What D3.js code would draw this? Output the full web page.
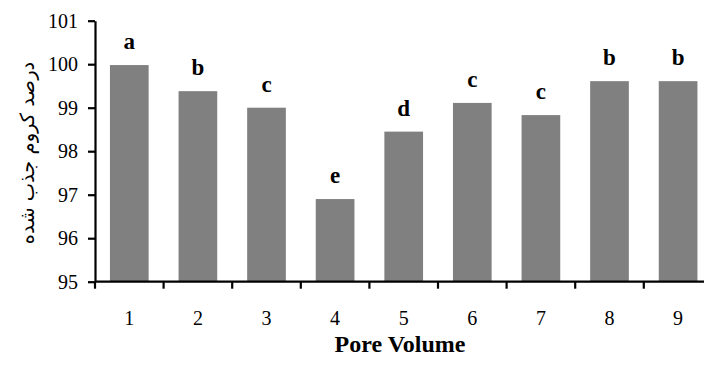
<!DOCTYPE html>
<html>
<head>
<meta charset="utf-8">
<script src="https://cdn.jsdelivr.net/npm/d3@7"></script>
<style>
body { margin: 0; background: #fff; }
svg text { font-family: "Times New Roman", "Liberation Serif", serif; }
</style>
</head>
<body>
<script>
var width = 704;
var height = 372;

// data
var poreVolumes = ["1", "2", "3", "4", "5", "6", "7", "8", "9"];
var chromiumRemoval = [99.98, 99.38, 99.0, 96.9, 98.45, 99.11, 98.83, 99.61, 99.61];
var groupLetters = ["a", "b", "c", "e", "d", "c", "c", "b", "b"];
var yTicks = [95, 96, 97, 98, 99, 100, 101];

var serif = "'Liberation Serif', 'Times New Roman', serif";

var svg = d3.select("body")
            .append("svg")
            .attr("width", width)
            .attr("height", height);

var plotLeft = 95, plotTop = 20.7, plotBottom = 281.7;
var step = 68.6;

var x = d3.scaleBand()
          .domain(poreVolumes)
          .range([plotLeft, plotLeft + step * poreVolumes.length])
          .paddingInner(0.436)
          .paddingOuter(0.218);

var y = d3.scaleLinear().domain([95, 101]).range([plotBottom, plotTop]);

var data = poreVolumes.map(function (d, i) {
    return { pv: d, value: chromiumRemoval[i], letter: groupLetters[i] };
});

// bars
svg.selectAll(".bar")
   .data(data)
   .enter()
   .append("rect")
   .attr("class", "bar")
   .attr("x", function (d) { return x(d.pv); })
   .attr("y", function (d) { return y(d.value); })
   .attr("width", x.bandwidth())
   .attr("height", function (d) { return plotBottom - y(d.value); })
   .attr("fill", "#808080");

// letters over bars
svg.selectAll(".letter")
   .data(data)
   .enter()
   .append("text")
   .attr("class", "letter")
   .attr("x", function (d) { return x(d.pv) + x.bandwidth() / 2; })
   .attr("y", function (d) { return y(d.value) - 16; })
   .attr("text-anchor", "middle")
   .style("font-size", "23px")
   .style("font-weight", "bold")
   .text(function (d) { return d.letter; });

// y axis
var yAxis = svg.append("g")
   .attr("transform", "translate(" + plotLeft + ",0)")
   .call(d3.axisLeft(y).tickValues(yTicks).tickFormat(d3.format("d"))
           .tickSize(7).tickSizeOuter(0).tickPadding(10));
yAxis.attr("font-family", serif).attr("font-size", 20);
yAxis.selectAll("path, line").attr("stroke", "#000").attr("stroke-width", 2.2);
yAxis.selectAll("text").style("font-size", "20px").style("font-family", serif);

// x axis: labels centred in bands, ticks between bands
var xAxis = svg.append("g")
   .attr("transform", "translate(0," + plotBottom + ")")
   .call(d3.axisBottom(x).tickSize(0).tickSizeOuter(0).tickPadding(29));
xAxis.attr("font-family", serif).attr("font-size", 20);
xAxis.select(".domain").remove();
xAxis.selectAll("text").style("font-size", "20px").style("font-family", serif);

svg.append("line")
   .attr("x1", plotLeft).attr("x2", width)
   .attr("y1", plotBottom).attr("y2", plotBottom)
   .attr("stroke", "#000").attr("stroke-width", 2.2);

var bounds = poreVolumes.map(function (d) {
    return x(d) - x.paddingInner() * x.step() / 2;
});
svg.selectAll(".xtick")
   .data(bounds)
   .enter()
   .append("line")
   .attr("class", "xtick")
   .attr("x1", function (d) { return d; })
   .attr("x2", function (d) { return d; })
   .attr("y1", plotBottom)
   .attr("y2", plotBottom + 7)
   .attr("stroke", "#000")
   .attr("stroke-width", 2.2);

// axis titles
svg.append("text")
   .attr("x", 400)
   .attr("y", 352)
   .attr("text-anchor", "middle")
   .style("font-size", "24px")
   .style("font-weight", "bold")
   .text("Pore Volume");

svg.append("text")
   .attr("transform", "translate(34,153) rotate(-90)")
   .attr("text-anchor", "middle")
   .attr("direction", "rtl")
   .style("font-family", "'DejaVu Sans', sans-serif")
   .style("font-size", "19.5px")
   .text("درصد کروم جذب شده");
</script>
</body>
</html>
